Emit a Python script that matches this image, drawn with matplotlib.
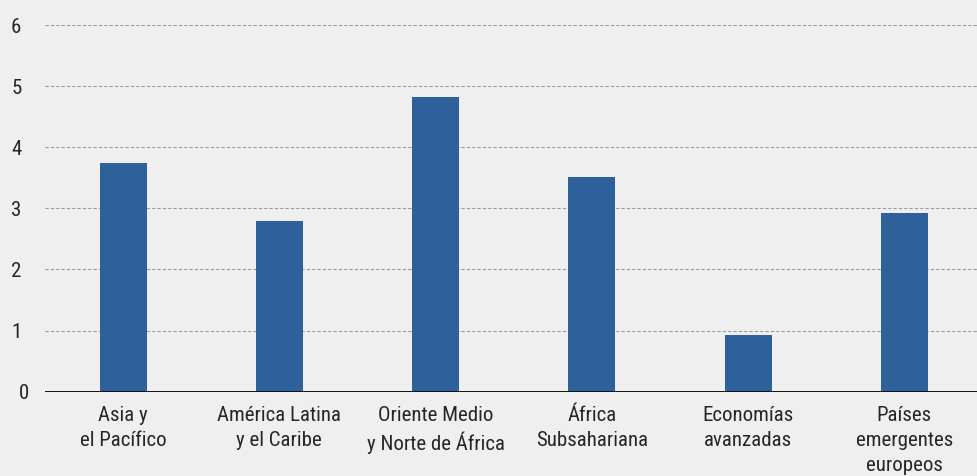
import matplotlib
matplotlib.use("Agg")
import matplotlib.pyplot as plt
from matplotlib.transforms import ScaledTranslation

categories = ["Asia y\nel Pacífico", "América Latina\ny el Caribe", "Oriente Medio\ny Norte de África",
              "África\nSubsahariana", "Economías\navanzadas", "Países\nemergentes\neuropeos"]
values = [3.74, 2.80, 4.83, 3.52, 0.92, 2.93]
yticks = [0, 1, 2, 3, 4, 5, 6]

plt.rcParams["font.family"] = ["Roboto Condensed", "DejaVu Sans"]

W, H = 978, 476
bg = "#efefef"
fig = plt.figure(figsize=(W / 100, H / 100), dpi=100, facecolor=bg)
left, right, top, bottom = 45, 982.5, 25, 391.7
ax = fig.add_axes([left / W, 1 - bottom / H, (right - left) / W, (bottom - top) / H])
ax.set_facecolor(bg)

x = list(range(len(categories)))
ax.bar(x, values, width=0.30, color="#2e6099", zorder=3)
ax.set_xlim(-0.5, len(categories) - 0.5)
ax.set_ylim(0, 6)
ax.set_yticks(yticks)
ax.set_yticklabels([str(t) for t in yticks])
ax.set_xticks(x)
ax.set_xticklabels(categories, fontsize=15, color="#262626", linespacing=1.4)

for t in yticks[1:]:
    ax.axhline(t, color="#9a9a9a", lw=0.8, ls=(0, (3, 1.8)), zorder=1)
ax.axhline(0, color="#111111", lw=1.4, zorder=4)

for s in ax.spines.values():
    s.set_visible(False)
ax.tick_params(axis="both", length=0)
ax.tick_params(axis="y", labelsize=15, labelcolor="#262626", pad=17)
ax.tick_params(axis="x", pad=10)
for lab in ax.get_yticklabels():
    if lab.get_text() == "0":
        lab.set_transform(lab.get_transform() + ScaledTranslation(8 / 100, 0, fig.dpi_scale_trans))

fig.savefig("out.png", dpi=100, facecolor=bg)
